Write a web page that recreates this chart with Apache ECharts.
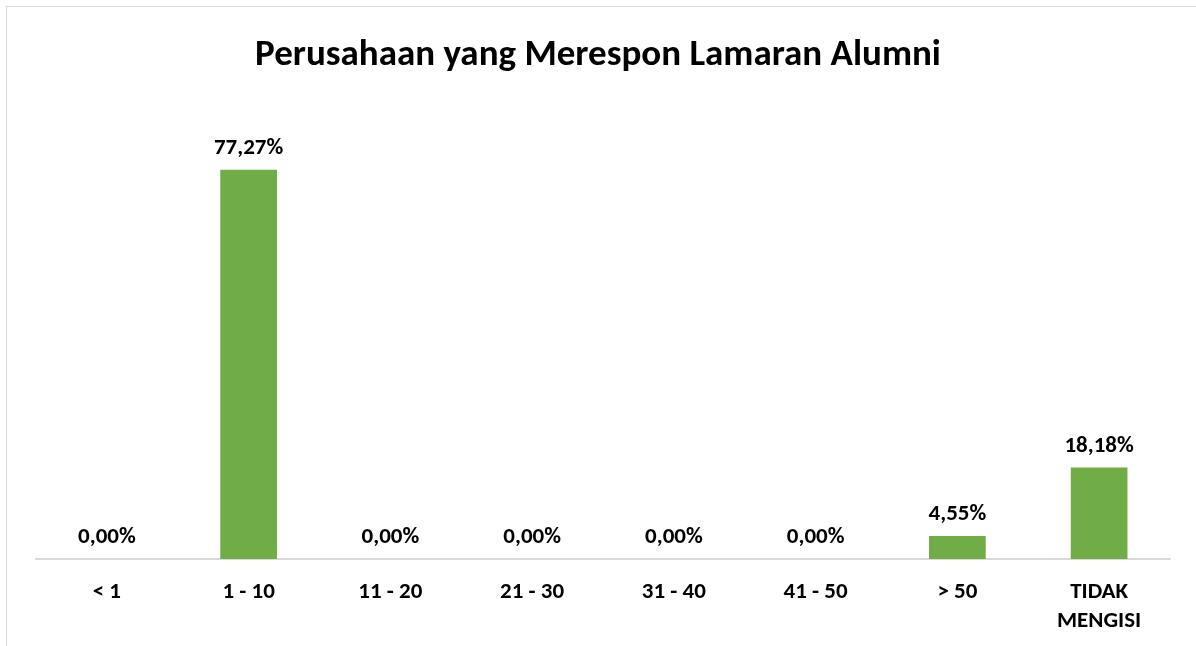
<!DOCTYPE html>
<html>
<head>
<meta charset="utf-8">
<script src="https://cdn.jsdelivr.net/npm/echarts@6/dist/echarts.min.js"></script>
<style>
  html, body { margin: 0; padding: 0; background: #fff; overflow: hidden; }
  #frame {
    position: absolute; left: 6px; top: 6px; width: 1300px; height: 800px;
    border: 1.5px solid #d9d9d9; box-sizing: border-box;
  }
  #chart { position: absolute; left: 0; top: 0; width: 1196px; height: 646px; }
</style>
</head>
<body>
<div id="frame"></div>
<div id="chart"></div>
<script>
// data
const categories = ['< 1', '1 - 10', '11 - 20', '21 - 30', '31 - 40', '41 - 50', '> 50', 'TIDAK\nMENGISI'];
const values = [0, 77.27, 0, 0, 0, 0, 4.55, 18.18];

const myChart = echarts.init(document.getElementById('chart'));
const font = 'Calibri, Carlito, "Open Sans", sans-serif';

const option = {
  animation: false,
  title: {
    text: 'Perusahaan yang Merespon Lamaran Alumni',
    left: 'center',
    top: 32,
    textStyle: {
      fontFamily: font,
      fontWeight: 'bold',
      fontSize: 37,
      color: '#000'
    }
  },
  grid: {
    left: 36,
    right: 26,
    top: 156,
    bottom: 87
  },
  xAxis: {
    type: 'category',
    data: categories,
    axisTick: {show: false},
    axisLine: {lineStyle: {color: '#d9d9d9', width: 2}},
    axisLabel: {
      interval: 0,
      margin: 19,
      fontFamily: font,
      fontWeight: 'bold',
      fontSize: 23,
      lineHeight: 29,
      color: '#000'
    }
  },
  yAxis: {
    type: 'value',
    min: 0,
    max: 80,
    show: false,
    splitLine: {show: false}
  },
  series: [
    {
      type: 'bar',
      data: values,
      barWidth: '40%',
      itemStyle: {color: '#70ad47'},
      label: {
        show: true,
        position: 'top',
        distance: 10,
        fontFamily: font,
        fontWeight: 'bold',
        fontSize: 23,
        color: '#000',
        formatter: function (p) {
          return p.value.toFixed(2).replace('.', ',') + '%';
        }
      }
    }
  ]
};
myChart.setOption(option);
</script>
</body>
</html>
